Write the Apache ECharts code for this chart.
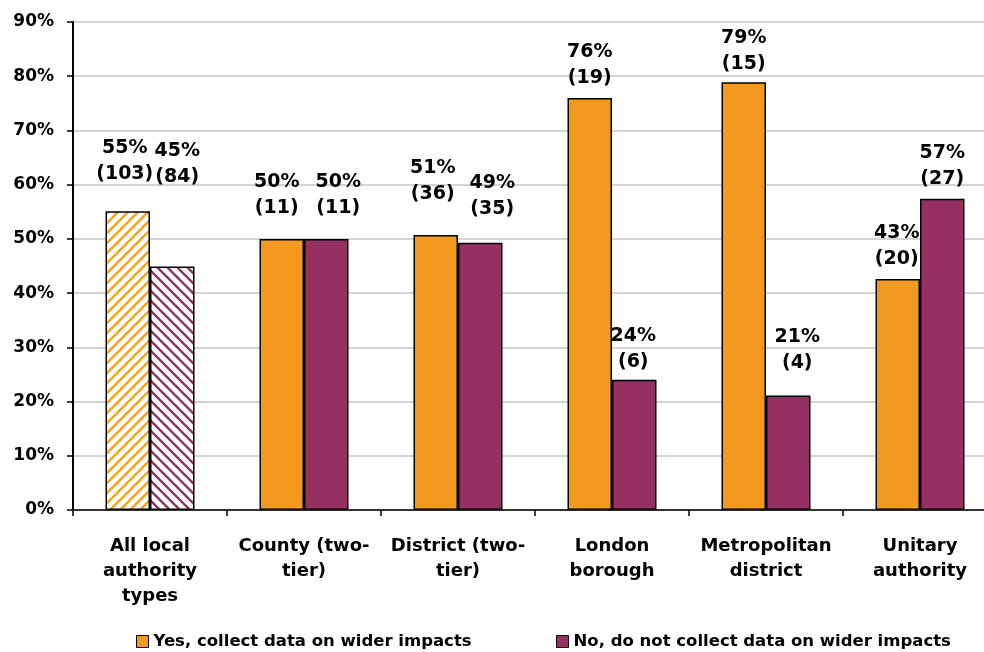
<!DOCTYPE html>
<html>
<head>
<meta charset="utf-8">
<script src="https://cdn.jsdelivr.net/npm/echarts@6/dist/echarts.min.js"></script>
<style>
  html, body { margin: 0; padding: 0; background: #fff; overflow: hidden; }
  #chart { width: 1000px; height: 652px; }
</style>
</head>
<body>
<div id="chart"></div>
<script>
// Authority types on the category axis
const categories = [
  'All local\nauthority\ntypes',
  'County (two-\ntier)',
  'District (two-\ntier)',
  'London\nborough',
  'Metropolitan\ndistrict',
  'Unitary\nauthority'
];

// Share of authorities (%) and number of authorities in each answer group
const yesShare = [55.1, 50.0, 50.7, 76.0, 78.9, 42.6];
const noShare  = [44.9, 50.0, 49.3, 24.0, 21.1, 57.4];
const yesCount = [103, 11, 36, 19, 15, 20];
const noCount  = [84, 11, 35, 6, 4, 27];

const yAxisTicks = [0, 10, 20, 30, 40, 50, 60, 70, 80, 90];

const seriesNames = [
  'Yes, collect data on wider impacts',
  'No, do not collect data on wider impacts'
];

const ORANGE = '#F4991F';
const PURPLE = '#953061';
const FONT = '"DejaVu Sans", sans-serif';

// Diagonal hatch tile used for the "all types" bars
function hatch(color, rising) {
  const s = 10;
  const c = document.createElement('canvas');
  c.width = s; c.height = s;
  const g = c.getContext('2d');
  g.fillStyle = '#fff';
  g.fillRect(0, 0, s, s);
  g.strokeStyle = color;
  g.lineWidth = 2.4;
  const segs = rising
    ? [[-s, s, s, -s], [0, s, s, 0], [0, 2 * s, 2 * s, 0]]
    : [[0, 0, s, s], [-s, 0, s, 2 * s], [0, -s, 2 * s, s]];
  segs.forEach(([a, b, c2, d]) => {
    g.beginPath(); g.moveTo(a, b); g.lineTo(c2, d); g.stroke();
  });
  return { image: c, repeat: 'repeat' };
}

// Hand-placed label nudges [dx, dy] for each bar's value label
const yesLabelShift = [[-3, -24], [-5, -18], [-3, -28], [0, -7], [0, -5], [-1, -7]];
const noLabelShift  = [[5, -76], [12, -18], [12, -21], [-1, -5], [9, -20], [0, -7]];

function buildData(values, shifts, pattern) {
  return values.map((v, i) => {
    const item = { value: v, label: { offset: shifts[i] } };
    if (i === 0) item.itemStyle = { color: pattern };
    return item;
  });
}

function labelFormatter(counts) {
  return p => Math.round(p.value) + '%\n(' + counts[p.dataIndex] + ')';
}

const baseLabel = {
  show: true,
  position: 'top',
  distance: 0,
  color: '#000',
  fontFamily: FONT,
  fontWeight: 'bold',
  fontSize: 19,
  lineHeight: 26,
  align: 'center'
};

const legendText = { fontFamily: FONT, fontWeight: 'bold', fontSize: 16.5, color: '#000' };

const chart = echarts.init(document.getElementById('chart'), null, { renderer: 'canvas' });

chart.setOption({
  animation: false,
  backgroundColor: '#fff',
  grid: { left: 73, top: 22, width: 924, height: 488, containLabel: false },
  legend: [
    {
      data: [seriesNames[0]],
      left: 136, top: 633, padding: 0, itemGap: 0,
      icon: 'rect', itemWidth: 12, itemHeight: 12,
      itemStyle: { borderColor: '#000', borderWidth: 1 },
      textStyle: legendText
    },
    {
      data: [seriesNames[1]],
      left: 556, top: 633, padding: 0, itemGap: 0,
      icon: 'rect', itemWidth: 12, itemHeight: 12,
      itemStyle: { borderColor: '#000', borderWidth: 1 },
      textStyle: legendText
    }
  ],
  xAxis: {
    type: 'category',
    data: categories,
    axisLine: { lineStyle: { color: '#000', width: 1.5 } },
    axisTick: { show: true, length: 6, lineStyle: { color: '#000', width: 1.5 } },
    axisLabel: {
      color: '#000', fontFamily: FONT, fontWeight: 'bold',
      fontSize: 18, lineHeight: 25, margin: 24, interval: 0
    }
  },
  yAxis: {
    type: 'value',
    min: yAxisTicks[0],
    max: yAxisTicks[yAxisTicks.length - 1],
    interval: yAxisTicks[1] - yAxisTicks[0],
    axisLine: { show: true, lineStyle: { color: '#000', width: 2 } },
    axisTick: { show: true, length: 6, lineStyle: { color: '#000', width: 1.5 } },
    splitLine: { lineStyle: { color: '#c4c4c4', width: 1.5 } },
    axisLabel: {
      formatter: '{value}%', color: '#000', fontFamily: FONT,
      fontWeight: 'bold', fontSize: 17, margin: 19
    }
  },
  series: [
    {
      name: seriesNames[0],
      type: 'bar',
      barWidth: 44.5,
      barGap: '0%',
      itemStyle: { color: ORANGE, borderColor: '#000', borderWidth: 1.5 },
      label: Object.assign({}, baseLabel, { formatter: labelFormatter(yesCount) }),
      data: buildData(yesShare, yesLabelShift, hatch('#F7A323', true))
    },
    {
      name: seriesNames[1],
      type: 'bar',
      barWidth: 44.5,
      barGap: '0%',
      itemStyle: { color: PURPLE, borderColor: '#000', borderWidth: 1.5 },
      label: Object.assign({}, baseLabel, { formatter: labelFormatter(noCount) }),
      data: buildData(noShare, noLabelShift, hatch(PURPLE, false))
    }
  ]
});
</script>
</body>
</html>
